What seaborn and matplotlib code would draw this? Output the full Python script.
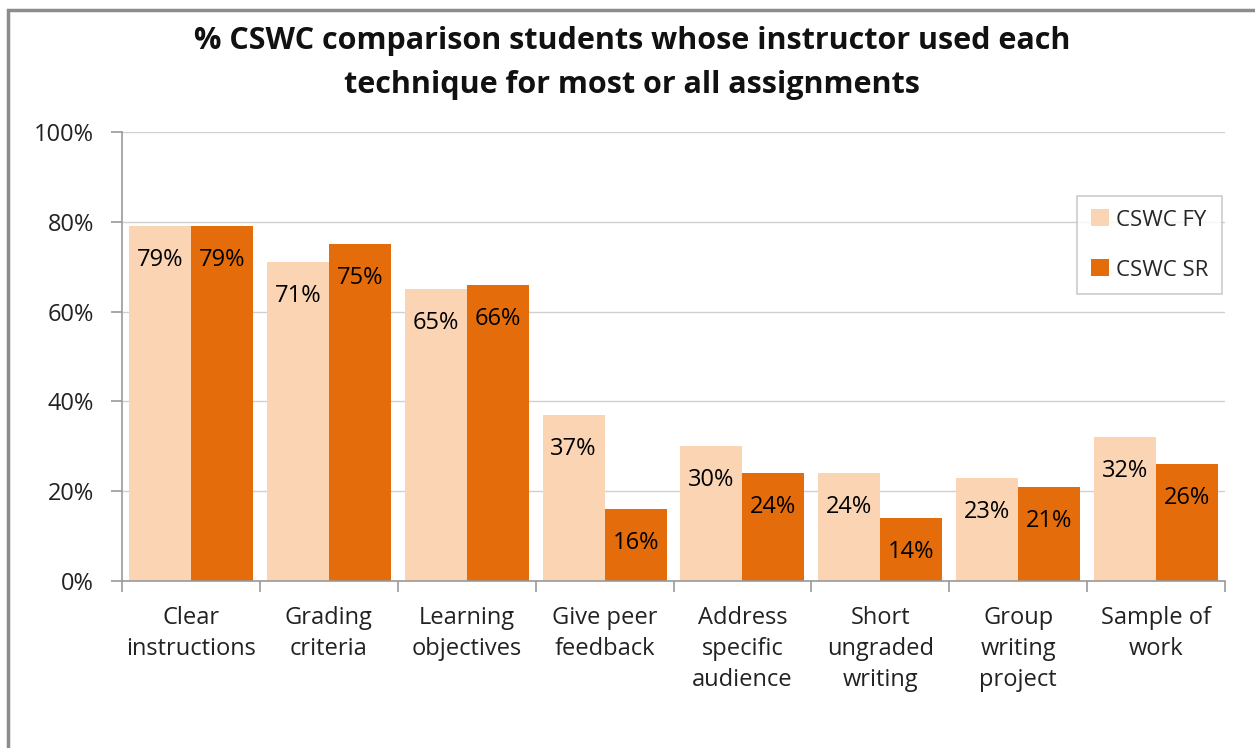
import matplotlib
matplotlib.use("Agg")
import matplotlib.pyplot as plt
import pandas as pd
import seaborn as sns
from matplotlib.patches import Rectangle, Patch

categories = ["Clear\ninstructions", "Grading\ncriteria", "Learning\nobjectives",
              "Give peer\nfeedback", "Address\nspecific\naudience", "Short\nungraded\nwriting",
              "Group\nwriting\nproject", "Sample of\nwork"]
series_names = ["CSWC FY", "CSWC SR"]
fy_values = [79, 71, 65, 37, 30, 24, 23, 32]
sr_values = [79, 75, 66, 16, 24, 14, 21, 26]
y_ticks = [0, 20, 40, 60, 80, 100]
y_tick_labels = ["0%", "20%", "40%", "60%", "80%", "100%"]
title = "% CSWC comparison students whose instructor used each\ntechnique for most or all assignments"

colors = {"CSWC FY": "#FBD4B4", "CSWC SR": "#E46C0A"}

df = pd.DataFrame({
    "category": categories * 2,
    "series": [series_names[0]] * len(categories) + [series_names[1]] * len(categories),
    "value": fy_values + sr_values,
})

sns.set_theme(style="white")
plt.rcParams["font.family"] = ["Open Sans", "DejaVu Sans"]

fig = plt.figure(figsize=(12.55, 7.48), dpi=100)
ax = fig.add_axes([122 / 1255, 1 - 581 / 748, (1225 - 122) / 1255, (581 - 132) / 748])

sns.barplot(data=df, x="category", y="value", hue="series", palette=colors,
            width=0.9, saturation=1, ax=ax, legend=False, edgecolor="none")

# value labels inside the top of each bar
for container, vals in zip(ax.containers, [fy_values, sr_values]):
    for bar, v in zip(container, vals):
        ax.text(bar.get_x() + bar.get_width() / 2, v - 7.6, f"{v}%",
                ha="center", va="center", fontsize=17, color="#000000")

ax.set_ylim(0, 100)
ax.set_xlim(-0.5, len(categories) - 0.5)
ax.set_yticks(y_ticks)
ax.set_yticklabels(y_tick_labels, fontsize=17, color="#222222")
ax.set_xticks(range(len(categories)))
ax.set_xticklabels(categories, fontsize=17, color="#222222", linespacing=1.38, va="top")
ax.set_xlabel("")
ax.set_ylabel("")

ax.grid(axis="y", color="#D0D0D0", linewidth=1)
ax.set_axisbelow(True)
for side in ["top", "right"]:
    ax.spines[side].set_visible(False)
for side in ["left", "bottom"]:
    ax.spines[side].set_color("#999999")
    ax.spines[side].set_linewidth(1.2)

# y ticks as short outward marks; x tick marks at category boundaries
ax.tick_params(axis="y", which="major", direction="out", length=8, color="#999999", width=1.2, pad=12, left=True)
ax.tick_params(axis="x", which="major", length=0, pad=18)
ax.set_xticks([i - 0.5 for i in range(len(categories) + 1)], minor=True)
ax.tick_params(axis="x", which="minor", direction="out", length=8, color="#999999", width=1.2, bottom=True)

fig.text(632 / 1255, 1 - 63 / 748, title, ha="center", va="center", fontsize=22,
         fontweight="bold", color="#111111", linespacing=1.6)

handles = [Patch(facecolor=colors[s], edgecolor="none", label=s) for s in series_names]
leg = ax.legend(handles=handles, loc="upper right",
                bbox_to_anchor=((1222 - 122) / 1103, (581 - 196) / 449),
                fontsize=16, frameon=True, fancybox=False, handlelength=0.8, handleheight=0.8,
                labelspacing=1.3, borderpad=0.6, handletextpad=0.35, borderaxespad=0)
leg.get_frame().set_edgecolor("#BFBFBF")
leg.get_frame().set_linewidth(1.2)

# outer chart frame
fig.patches.append(Rectangle((8 / 1255, -0.05), 1.1, 1 - 10 / 748 + 0.05,
                             transform=fig.transFigure, fill=False,
                             edgecolor="#8C8C8C", linewidth=2.5))

fig.savefig("out.png", dpi=100, facecolor="white")
